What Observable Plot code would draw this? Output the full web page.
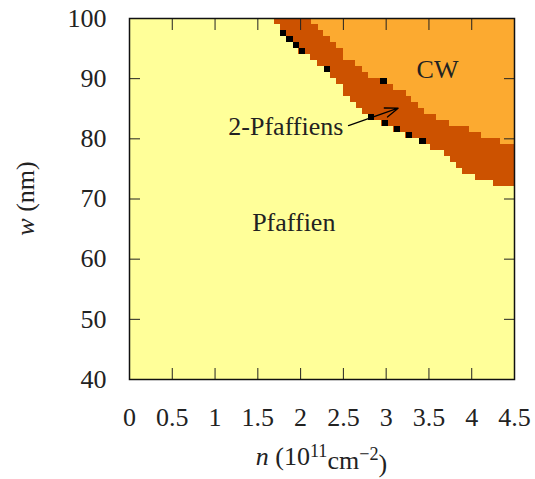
<!DOCTYPE html>
<html><head><meta charset="utf-8">
<script src="https://cdn.jsdelivr.net/npm/d3@7"></script>
<script src="https://cdn.jsdelivr.net/npm/@observablehq/plot@0.6"></script>
<style>body{margin:0;background:#fff}</style>
</head><body><div id="chart"></div>
<script>
// ---- data ----
const nTicks = [0, 0.5, 1, 1.5, 2, 2.5, 3, 3.5, 4, 4.5];
const wTicks = [40, 50, 60, 70, 80, 90, 100];

// rows of the phase map: lower edge w (nm), each row 1 nm high
const rowW     = [72, 73, 74, 75, 76, 77, 78, 79, 80, 81, 82, 83, 84, 85, 86, 87, 88, 89, 90, 91, 92, 93, 94, 95, 96, 97, 98, 99];
// n where the Pfaffien (yellow) phase ends in that row
const pfaffEnd = [4.26, 4.04, 3.89, 3.82, 3.75, 3.68, 3.52, 3.39, 3.23, 3.09, 2.95, 2.79, 2.72, 2.65, 2.58, 2.50, 2.50, 2.42, 2.35, 2.28, 2.20, 2.12, 1.98, 1.92, 1.84, 1.76, 1.76, 1.69];
// n where the CW (orange) phase starts in that row (null = none)
const cwStart  = [null, null, null, null, null, null, null, 4.34, 4.12, 3.97, 3.74, 3.59, 3.45, 3.38, 3.30, 3.24, 3.08, 3.01, 2.79, 2.72, 2.64, 2.50, 2.50, 2.42, 2.35, 2.27, 2.21, 2.13];

// isolated black cells (cell centres)
const blackN = [1.80, 1.875, 1.955, 2.02, 2.315, 2.975, 2.83, 2.99, 3.13, 3.27, 3.43];
const blackW = [97.5, 96.5, 95.5, 94.5, 91.5, 89.5, 83.5, 82.5, 81.5, 80.5, 79.5];

const labelText = ["CW", "2-Pfaffiens", "Pfaffien"];
const labelN = [3.60, 2.50, 1.92];
const labelW = [91.5, 82.0, 66.1];
const labelAnchor = ["middle", "end", "middle"];

const arrowN = [2.56, 3.14];
const arrowW = [82.2, 85.1];

// ---- styling ----
const FONT = "Liberation Serif, DejaVu Serif, serif";
const FS = 26;
const cYellow = "#ffff99", cDark = "#cc5200", cOrange = "#fcaa30";
const cellW = 0.075, cellH = 1;

const nMax = nTicks[nTicks.length - 1], nMin = nTicks[0];
const wMax = wTicks[wTicks.length - 1], wMin = wTicks[0];

const rows = rowW.map((w, i) => ({w, n1: pfaffEnd[i], n2: cwStart[i]}));
const cwRows = rows.filter(d => d.n2 != null);
const blacks = blackN.map((n, i) => ({n, w: blackW[i]}));
const labels = labelText.map((t, i) => ({t, n: labelN[i], w: labelW[i], a: labelAnchor[i]}));
const arrows = [{x1: arrowN[0], y1: arrowW[0], x2: arrowN[1], y2: arrowW[1]}];

const cellOpts = {inset: 0, shapeRendering: "crispEdges"};
const textMarks = ["start", "middle", "end"].map(a =>
  Plot.text(labels.filter(d => d.a === a), {x: "n", y: "w", text: "t", textAnchor: a, fontSize: FS, fontFamily: FONT, fill: "#222"}));

const chart = Plot.plot({
  width: 535, height: 479,
  marginLeft: 129, marginRight: 21, marginTop: 18, marginBottom: 100,
  x: {domain: [nMin, nMax]},
  y: {domain: [wMin, wMax]},
  style: {fontFamily: FONT, fontSize: FS + "px", background: "white", color: "#222"},
  marks: [
    Plot.frame({fill: cYellow, stroke: null}),
    Plot.rect(rows, {x1: "n1", x2: () => nMax, y1: "w", y2: d => d.w + cellH, fill: cDark, ...cellOpts}),
    Plot.rect(cwRows, {x1: "n2", x2: () => nMax, y1: "w", y2: d => d.w + cellH, fill: cOrange, ...cellOpts}),
    Plot.rect(blacks, {x1: d => d.n - cellW / 2, x2: d => d.n + cellW / 2, y1: d => d.w - cellH / 2, y2: d => d.w + cellH / 2, fill: "black", ...cellOpts}),
    Plot.arrow(arrows, {x1: "x1", y1: "y1", x2: "x2", y2: "y2", stroke: "black", strokeWidth: 1.3, headLength: 16, headAngle: 40}),
    ...textMarks,
    // tick labels
    Plot.axisX(nTicks, {anchor: "bottom", tickSize: 0, tickPadding: 28, fontSize: FS, fontFamily: FONT, label: null, tickFormat: d => String(d)}),
    Plot.axisY(wTicks, {anchor: "left", tickSize: 0, tickPadding: 23, fontSize: FS, fontFamily: FONT, label: null, tickFormat: d => String(d)}),
    // inward ticks on all four sides
    Plot.axisX(nTicks, {anchor: "bottom", tickSize: -11, fill: "none", label: null, stroke: "#222"}),
    Plot.axisX(nTicks, {anchor: "top", tickSize: -11, fill: "none", label: null, stroke: "#222"}),
    Plot.axisY(wTicks, {anchor: "left", tickSize: -11, fill: "none", label: null, stroke: "#222"}),
    Plot.axisY(wTicks, {anchor: "right", tickSize: -11, fill: "none", label: null, stroke: "#222"}),
    Plot.frame({stroke: "#111", strokeWidth: 1.5})
  ]
});
document.getElementById("chart").appendChild(chart);

// axis titles with italic variables and superscripts
const xs = chart.scale("x"), ys = chart.scale("y");
const svg = d3.select(chart);
const xMid = (xs.apply(nMin) + xs.apply(nMax)) / 2;
const xt = svg.append("text")
  .attr("x", xMid).attr("y", ys.apply(wMin) + 86)
  .attr("text-anchor", "middle")
  .style("font-family", FONT).attr("font-size", FS).attr("fill", "#222");
xt.append("tspan").attr("font-style", "italic").text("n");
xt.append("tspan").text(" (10");
xt.append("tspan").attr("dy", "-0.45em").attr("font-size", FS * 0.7).text("11");
xt.append("tspan").attr("dy", "0.45em").text("cm");
xt.append("tspan").attr("dy", "-0.45em").attr("font-size", FS * 0.7).text("−2");
xt.append("tspan").attr("dy", "0.45em").text(")");

const yMid = (ys.apply(wMin) + ys.apply(wMax)) / 2;
const yx = xs.apply(nMin) - 95;
const yt = svg.append("text")
  .attr("transform", `translate(${yx},${yMid}) rotate(-90)`)
  .attr("text-anchor", "middle")
  .style("font-family", FONT).attr("font-size", FS).attr("fill", "#222");
yt.append("tspan").attr("font-style", "italic").text("w");
yt.append("tspan").text(" (nm)");
</script>
</body></html>
